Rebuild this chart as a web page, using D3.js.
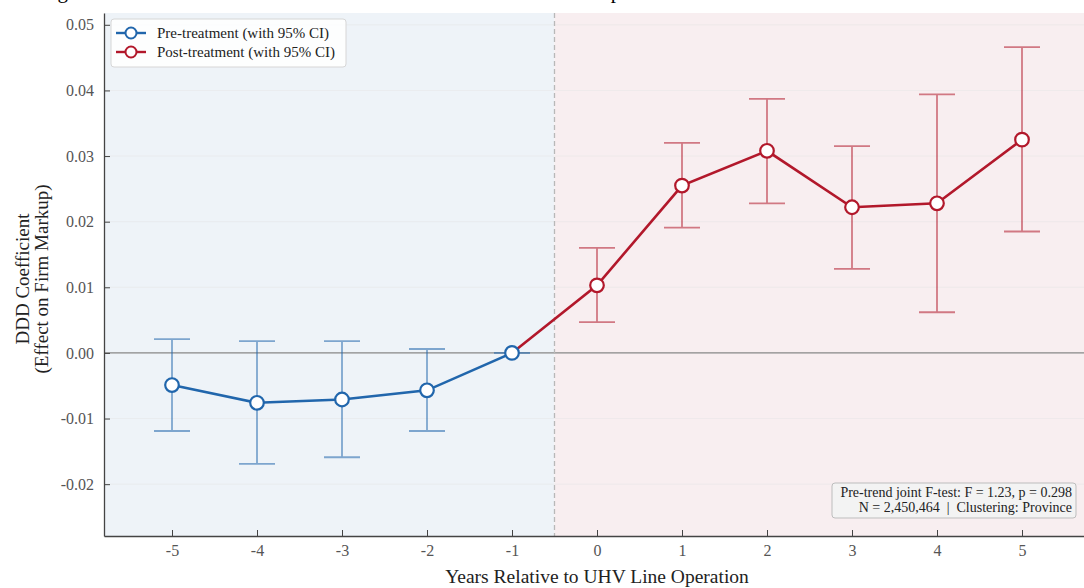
<!DOCTYPE html>
<html>
<head>
<meta charset="utf-8">
<title>DDD event study</title>
<script src="https://d3js.org/d3.v7.min.js"></script>
<style>
    body { margin: 0; background: #fff; }
    svg text { font-family: "Liberation Serif", "Times New Roman", serif; }
</style>
</head>
<body>
<div id="chart"></div>
<script>
    // event-time values
    var preYears = [-5, -4, -3, -2, -1];
    var preCoef  = [-0.0049, -0.0076, -0.0071, -0.0057, 0.0];
    var preLow   = [-0.0119, -0.0169, -0.0159, -0.0119, 0.0];
    var preHigh  = [0.0021, 0.0018, 0.0018, 0.0006, 0.0];

    var postYears = [0, 1, 2, 3, 4, 5];
    var postCoef  = [0.0103, 0.0255, 0.0308, 0.0222, 0.0228, 0.0325];
    var postLow   = [0.0047, 0.0191, 0.0228, 0.0128, 0.0062, 0.0185];
    var postHigh  = [0.0160, 0.0320, 0.0387, 0.0315, 0.0394, 0.0466];

    var xTicks = [-5, -4, -3, -2, -1, 0, 1, 2, 3, 4, 5];
    var yTicks = [-0.02, -0.01, 0.0, 0.01, 0.02, 0.03, 0.04, 0.05];

    var legendLabels = ["Pre-treatment (with 95% CI)", "Post-treatment (with 95% CI)"];
    var noteLines = ["Pre-trend joint F-test: F = 1.23, p = 0.298", "N = 2,450,464  |  Clustering: Province"];

    var width = 1084, height = 588;
    var pLeft = 104, pTop = 13, pRight = 1090, pBottom = 536;

    var blue = "#2166ac", red = "#b2182b";

    var svg = d3.select("#chart").append("svg")
        .attr("width", width).attr("height", height);

    var x = d3.scaleLinear().domain([-5.8, 5.8]).range([pLeft, pRight]);
    var y = d3.scaleLinear().domain([-0.0279, 0.0518]).range([pBottom, pTop]);

    // clipped title at the very top
    svg.append("text")
        .attr("x", 40).attr("y", -2)
        .attr("font-size", 21)
        .attr("fill", "#000")
        .text("Figure 3: Event Effects of UHV Transmission Lines on Firm Markup");

    var plot = svg.append("g");

    // shaded periods
    plot.append("rect")
        .attr("x", pLeft).attr("y", pTop)
        .attr("width", x(-0.5) - pLeft).attr("height", pBottom - pTop)
        .attr("fill", "#eef3f8");
    plot.append("rect")
        .attr("x", x(-0.5)).attr("y", pTop)
        .attr("width", pRight - x(-0.5)).attr("height", pBottom - pTop)
        .attr("fill", "#f8eef0");

    // faint grid
    plot.selectAll(".grid").data(yTicks).enter().append("line")
        .attr("x1", pLeft).attr("x2", pRight)
        .attr("y1", function (d) { return y(d); })
        .attr("y2", function (d) { return y(d); })
        .attr("stroke", "#e4e4e4").attr("stroke-width", 0.8).attr("opacity", 0.6);

    // zero line + treatment line
    plot.append("line")
        .attr("x1", pLeft).attr("x2", pRight)
        .attr("y1", y(0)).attr("y2", y(0))
        .attr("stroke", "#8a8a8a").attr("stroke-width", 1.2);
    plot.append("line")
        .attr("x1", x(-0.5)).attr("x2", x(-0.5))
        .attr("y1", pTop).attr("y2", pBottom)
        .attr("stroke", "#b8b8b8").attr("stroke-width", 1.3)
        .attr("stroke-dasharray", "5,3");

    function errorBars(years, low, high, color) {
        var g = plot.append("g").attr("stroke", color).attr("stroke-width", 1.8).attr("opacity", 0.55);
        years.forEach(function (yr, i) {
            g.append("line").attr("x1", x(yr)).attr("x2", x(yr))
                .attr("y1", y(low[i])).attr("y2", y(high[i]));
            g.append("line").attr("x1", x(yr) - 18).attr("x2", x(yr) + 18)
                .attr("y1", y(low[i])).attr("y2", y(low[i]));
            g.append("line").attr("x1", x(yr) - 18).attr("x2", x(yr) + 18)
                .attr("y1", y(high[i])).attr("y2", y(high[i]));
        });
    }

    errorBars(preYears, preLow, preHigh, blue);
    errorBars(postYears, postLow, postHigh, red);

    var line = d3.line()
        .x(function (d) { return x(d[0]); })
        .y(function (d) { return y(d[1]); });

    var preData = preYears.map(function (d, i) { return [d, preCoef[i]]; });
    var postData = postYears.map(function (d, i) { return [d, postCoef[i]]; });

    // red segment continues from the last pre-period point
    plot.append("path")
        .datum([preData[preData.length - 1]].concat(postData))
        .attr("d", line)
        .attr("fill", "none").attr("stroke", red).attr("stroke-width", 2.6);
    plot.append("path")
        .datum(preData)
        .attr("d", line)
        .attr("fill", "none").attr("stroke", blue).attr("stroke-width", 2.6);

    function markers(data, color) {
        plot.selectAll(null).data(data).enter().append("circle")
            .attr("cx", function (d) { return x(d[0]); })
            .attr("cy", function (d) { return y(d[1]); })
            .attr("r", 6.8)
            .attr("fill", "#fff").attr("stroke", color).attr("stroke-width", 2.2);
    }
    markers(postData, red);
    markers(preData, blue);

    // axes (ticks point inward)
    var xAxis = d3.axisBottom(x).tickValues(xTicks).tickSizeInner(-6).tickSizeOuter(0).tickPadding(9)
        .tickFormat(function (d) { return String(d); });
    var gx = svg.append("g").attr("transform", "translate(0," + pBottom + ")").call(xAxis);
    gx.select(".domain").attr("stroke", "#444").attr("stroke-width", 1.3);
    gx.selectAll(".tick line").attr("stroke", "#444");
    gx.selectAll(".tick text").attr("font-size", 16).attr("fill", "#555");

    var yAxis = d3.axisLeft(y).tickValues(yTicks).tickSizeInner(-6).tickSizeOuter(0).tickPadding(10)
        .tickFormat(function (d) { return d3.format(".2f")(d).replace("\u2212", "-"); });
    var gy = svg.append("g").attr("transform", "translate(" + pLeft + ",0)").call(yAxis);
    gy.select(".domain").attr("stroke", "#444").attr("stroke-width", 1.3);
    gy.selectAll(".tick line").attr("stroke", "#444");
    gy.selectAll(".tick text").attr("font-size", 16).attr("fill", "#555");

    // axis titles
    svg.append("text")
        .attr("x", x(0)).attr("y", 583)
        .attr("text-anchor", "middle").attr("font-size", 19.5).attr("fill", "#222")
        .text("Years Relative to UHV Line Operation");

    var yl = svg.append("text")
        .attr("transform", "translate(29,279) rotate(-90)")
        .attr("text-anchor", "middle").attr("font-size", 19).attr("fill", "#222");
    yl.append("tspan").attr("x", 0).attr("dy", 0).text("DDD Coefficient");
    yl.append("tspan").attr("x", 0).attr("dy", 19).text("(Effect on Firm Markup)");

    // legend
    var lg = svg.append("g");
    lg.append("rect")
        .attr("x", 111).attr("y", 19).attr("width", 235).attr("height", 48)
        .attr("rx", 3).attr("fill", "#fff").attr("fill-opacity", 0.85)
        .attr("stroke", "#d6d6d6");
    [blue, red].forEach(function (c, i) {
        var cy = 33 + i * 19;
        lg.append("line").attr("x1", 116).attr("x2", 146).attr("y1", cy).attr("y2", cy)
            .attr("stroke", c).attr("stroke-width", 2.4);
        lg.append("circle").attr("cx", 131).attr("cy", cy).attr("r", 5.5)
            .attr("fill", "#fff").attr("stroke", c).attr("stroke-width", 2);
        lg.append("text").attr("x", 157).attr("y", cy + 5)
            .attr("font-size", 15).attr("fill", "#222").text(legendLabels[i]);
    });

    // note box
    var nb = svg.append("g");
    nb.append("rect")
        .attr("x", 832).attr("y", 483).attr("width", 244).attr("height", 35)
        .attr("rx", 3).attr("fill", "#f3f3f3").attr("stroke", "#bdbdbd");
    noteLines.forEach(function (t, i) {
        nb.append("text").attr("x", 1072).attr("y", 497 + i * 15)
            .attr("text-anchor", "end").attr("font-size", 14).attr("fill", "#222")
            .style("white-space", "pre")
            .text(t);
    });
</script>
</body>
</html>
